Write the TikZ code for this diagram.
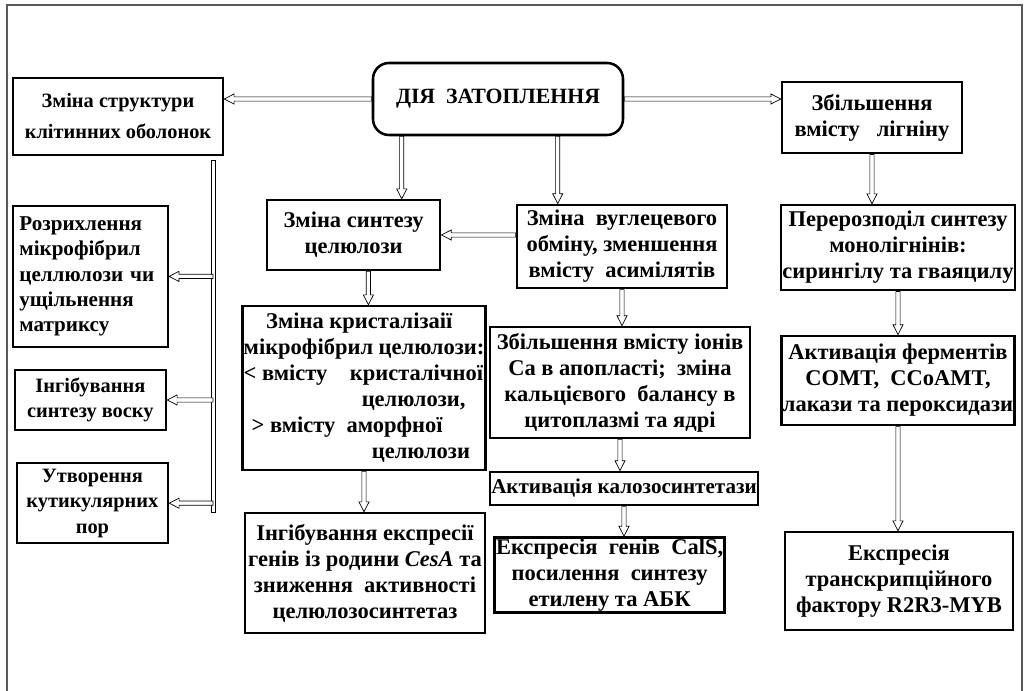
\documentclass[tikz,border=0pt]{standalone}
\usepackage{fontspec}
\setmainfont{Liberation Serif}
\usetikzlibrary{calc}

\begin{document}
\begin{tikzpicture}[
    box/.style={draw, line width=1.8pt, align=center, inner sep=1pt,
        font=\bfseries\fontsize{16}{18.5}\selectfont},
    sbox/.style={box, font=\bfseries\fontsize{14.5}{18}\selectfont},
    arr/.style={draw, fill=white, line width=0.5pt,
        to path={let \p1=(\tikztostart), \p2=(\tikztotarget),
            \n1={atan2(\y2-\y1,\x2-\x1)} in
            ($(\p1)+(\n1+90:1.5pt)$)
            -- ($(\p2)+(\n1+180:7pt)+(\n1+90:1.5pt)$)
            -- ($(\p2)+(\n1+180:7pt)+(\n1+90:3.6pt)$)
            -- (\p2)
            -- ($(\p2)+(\n1+180:7pt)+(\n1-90:3.6pt)$)
            -- ($(\p2)+(\n1+180:7pt)+(\n1-90:1.5pt)$)
            -- ($(\p1)+(\n1-90:1.5pt)$) -- cycle}},
    trunk/.style={draw, fill=white, line width=0.5pt}
]
\useasboundingbox (0,0) rectangle (25.675,-17.275);
% outer frame
\draw[gray!70!black, line width=0.8pt] (0.175,-17.3) |- (25.55,-0.125) -- (25.55,-17.3);

% Top row
\node[box, minimum width=6.25cm, minimum height=1.8cm, rounded corners=0.4cm,
      font=\rmfamily\bfseries\fontsize{15.5}{19}\selectfont] (flood) at (12.45,-2.475) {ДІЯ\ \ ЗАТОПЛЕННЯ};
\node[sbox, minimum width=5.25cm, minimum height=1.93cm,
      font=\bfseries\fontsize{14.5}{22}\selectfont] (struct) at (2.95,-2.91) {Зміна структури\\клітинних оболонок};
\node[box, minimum width=4.5cm, minimum height=1.78cm] (lignin) at (21.8,-2.94) {Збільшення\\вмісту\ \ \ лігніну};

% Left column
\node[sbox, text width=3.55cm, inner xsep=0.16cm, minimum height=3.53cm, align=left,
      font=\bfseries\fontsize{15}{18}\selectfont] (loosen) at (2.26,-6.91) {Розрихлення\\мікрофібрил\\целлюлози чи\\ущільнення\\матриксу};
\node[sbox, minimum width=3.78cm, minimum height=1.5cm] (wax) at (2.26,-10.0) {Інгібування\\синтезу воску};
\node[sbox, minimum width=3.78cm, minimum height=2.0cm] (pores) at (2.31,-12.58) {Утворення\\кутикулярних\\пор};

% Cellulose column
\node[box, minimum width=4.33cm, minimum height=1.75cm] (cellsyn) at (8.84,-5.875) {Зміна синтезу\\целюлози};
\node[box, minimum width=6.05cm, minimum height=4.1cm, align=left] (cryst) at (9.1,-9.7) {\hspace*{1em}Зміна кристалізаії\\мікрофібрил целюлози:\\< вмісту\quad кристалічної\\\hspace*{5.25em}целюлози,\\\hspace*{0.35em}> вмісту\ \ аморфної\\\hspace*{5.7em}целюлози};
\node[box, minimum width=6.0cm, minimum height=3.0cm] (inhib) at (9.125,-14.325) {Інгібування експресії\\генів із родини \textit{CesA} та\\зниження\ \ активності\\целюлозосинтетаз};

% Carbon / calcium column
\node[box, minimum width=5.25cm, minimum height=2.08cm] (carbon) at (15.55,-6.16) {Зміна\ \ вуглецевого\\обміну, зменшення\\вмісту\ \ асимілятів};
\node[box, minimum width=6.5cm, minimum height=2.78cm] (calcium) at (15.5,-9.56) {Збільшення вмісту іонів\\Са в апопласті;\ \ зміна\\кальцієвого\ \ балансу в\\цитоплазмі та ядрі};
\node[box, minimum width=6.7cm, minimum height=0.83cm,
      font=\bfseries\fontsize{15}{18}\selectfont] (callose) at (15.6,-12.21) {Активація калозосинтетази};
\node[box, minimum width=5.63cm, minimum height=1.75cm] (cals) at (15.24,-14.375) {Експресія\ \ генів\ \ CalS,\\посилення\ \ синтезу\\етилену та АБК};

% Lignin column
\node[box, minimum width=5.75cm, minimum height=2.13cm] (monolig) at (22.45,-6.19) {Перерозподіл синтезу\\монолігнінів:\\сирингілу та гваяцилу};
\node[box, minimum width=5.75cm, minimum height=2.23cm] (enzymes) at (22.45,-9.51) {Активація ферментів\\COMT,\ \ CCoAMT,\\лакази та пероксидази};
\node[box, minimum width=5.7cm, minimum height=2.45cm] (myb) at (22.475,-14.525) {Експресія\\транскрипційного\\фактору R2R3-MYB};

% Arrows from the flooding node
\coordinate (fl1) at ([xshift=0.75cm]flood.south west);
\coordinate (fl2) at ([xshift=4.65cm]flood.south west);
\draw[arr] (flood.west) to (flood.west -| struct.east);
\draw[arr] (flood.east) to (flood.east -| lignin.west);
\draw[arr] (fl1) to (fl1 |- cellsyn.north);
\draw[arr] (fl2) to (fl2 |- carbon.north);

% Left trunk
\coordinate (trtop) at (5.325,-4.0);
\coordinate (trbot) at (5.325,-12.8);
\draw[trunk] ([xshift=-1.5pt]trtop) rectangle ([xshift=1.5pt]trbot);
\draw[arr] (loosen.east -| trtop) to (loosen.east);
\draw[arr] (wax.east -| trtop) to (wax.east);
\draw[arr] (pores.east -| trtop) to (pores.east);

% Sequential arrows
\coordinate (cs1) at ([xshift=0.37cm]cellsyn.south);
\draw[arr] (cellsyn.east -| carbon.west) to (cellsyn.east);
\draw[arr] (cs1) to (cs1 |- cryst.north);
\draw[arr] (cryst.south) to (cryst.south |- inhib.north);
\draw[arr] (carbon.south) to (carbon.south |- calcium.north);
\draw[arr] (calcium.south) to (calcium.south |- callose.north);
\draw[arr] (callose.south) to (callose.south |- cals.north);
\draw[arr] (lignin.south) to (lignin.south |- monolig.north);
\draw[arr] (monolig.south) to (monolig.south |- enzymes.north);
\draw[arr] (enzymes.south) to (enzymes.south |- myb.north);
\end{tikzpicture}
\end{document}
